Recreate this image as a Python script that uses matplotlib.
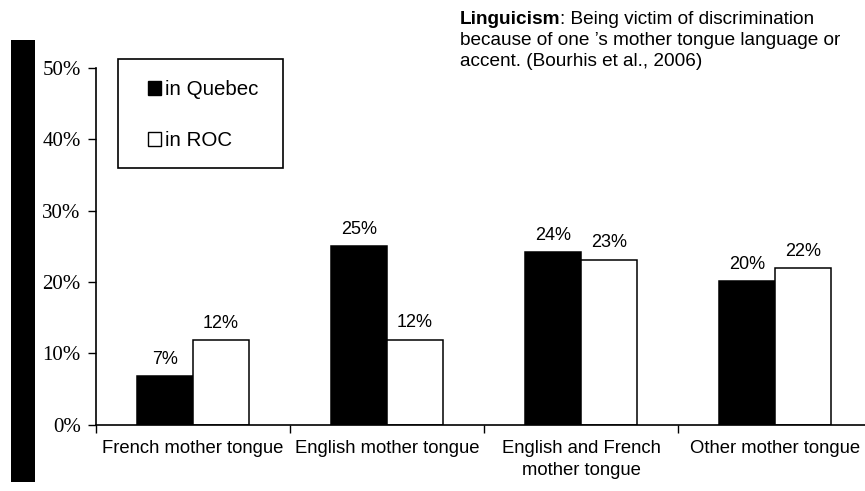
import matplotlib
matplotlib.use("Agg")
import matplotlib.pyplot as plt
from matplotlib.patches import Patch, Rectangle
import numpy as np

# data
categories = ["French mother tongue", "English mother tongue",
              "English and French\nmother tongue", "Other mother tongue"]
quebec = [6.8, 25.0, 24.2, 20.1]
roc = [11.8, 11.9, 23.1, 21.9]
series_names = ["in Quebec", "in ROC"]
yticks = [0, 10, 20, 30, 40, 50]

W, H = 865, 491
sans = "Liberation Sans"
serif = "Liberation Serif"

fig = plt.figure(figsize=(W / 100, H / 100), dpi=100)
ax = fig.add_axes([96 / W, 1 - 424.5 / H, (872 - 96) / W, (424.5 - 68) / H])

x = np.arange(len(categories))
bw = 0.289
b1 = ax.bar(x - bw / 2, quebec, bw, color="black", edgecolor="black", linewidth=1.1)
b2 = ax.bar(x + bw / 2, roc, bw, color="white", edgecolor="black", linewidth=1.1)

for bars, vals in [(b1, quebec), (b2, roc)]:
    for rect, v in zip(bars, vals):
        ax.annotate(f"{v:.0f}%", (rect.get_x() + rect.get_width() / 2, v),
                    xytext=(0, 6), textcoords="offset points",
                    ha="center", va="bottom", fontsize=13, family=sans)

ax.set_xlim(-0.5, len(categories) - 0.5)
ax.set_ylim(0, 50)
ax.set_yticks(yticks)
ax.set_yticklabels([f"{v}%" for v in yticks], family=serif, fontsize=15)
ax.tick_params(axis="y", direction="out", length=6, width=1, pad=5)

ax.set_xticks(x)
ax.set_xticklabels(categories, family=sans, fontsize=13.3, linespacing=1.35)
ax.set_xticks(np.arange(len(categories) + 1) - 0.5, minor=True)
ax.tick_params(axis="x", which="major", length=0, pad=11.5)
ax.tick_params(axis="x", which="minor", direction="out", length=6, width=1)

for s in ["top", "right"]:
    ax.spines[s].set_visible(False)
for s in ["left", "bottom"]:
    ax.spines[s].set_linewidth(1.2)

# legend with its own box
handles = [Patch(facecolor="black", edgecolor="black"),
           Patch(facecolor="white", edgecolor="black")]
fig.legend(handles, series_names, loc="center",
           bbox_to_anchor=(203 / W, 1 - 115 / H), frameon=False,
           prop={"family": sans, "size": 14.8}, handlelength=0.65, handleheight=0.65,
           handletextpad=0.15, labelspacing=1.55, borderpad=0)
fig.patches.append(Rectangle((118 / W, 1 - 168 / H), 165 / W, 109 / H,
                             transform=fig.transFigure, facecolor="none",
                             edgecolor="black", linewidth=1.2))

# black strip on the left
fig.patches.append(Rectangle((11 / W, 1 - 482 / H), 24 / W, 442 / H,
                             transform=fig.transFigure, facecolor="black",
                             edgecolor="none"))

# definition text
t1 = fig.text(460 / W, 1 - 23.5 / H, "Linguicism", weight="bold",
              family=sans, fontsize=13.7, va="baseline")
ax.annotate(": Being victim of discrimination", xy=(1, 0), xycoords=t1,
            va="bottom", ha="left", family=sans, fontsize=13.7)
fig.text(460 / W, 1 - 45 / H, "because of one \u2019s mother tongue language or",
         family=sans, fontsize=13.7, va="baseline")
fig.text(460 / W, 1 - 66.5 / H, "accent. (Bourhis et al., 2006)",
         family=sans, fontsize=13.7, va="baseline")

fig.savefig("out.png", dpi=100)
